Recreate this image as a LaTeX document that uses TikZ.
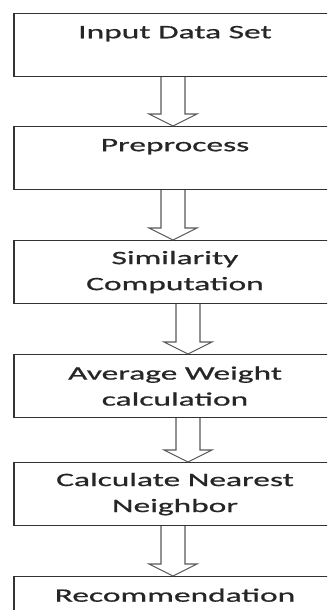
\documentclass[tikz,border=0pt]{standalone}
\usepackage{fontspec}
\setmainfont{Carlito}[FakeStretch=1.76,FakeBold=0.8]
\usetikzlibrary{calc}

% hollow block arrow from one box to the next, at a given x
\newcommand{\hollowarrow}[3]{%
  \draw[harrow] let \p1=(#1.south), \p2=(#2.north) in
    (#3-12,\y1) -- (#3-12,\y2+12) -- (#3-24,\y2+12) -- (#3,\y2)
    -- (#3+24,\y2+12) -- (#3+12,\y2+12) -- (#3+12,\y1);}

\begin{document}
\begin{tikzpicture}[x=1pt,y=1pt,
    stepbox/.style={draw=black!80,line width=1.2pt,minimum width=322pt,
      minimum height=63pt,align=center,anchor=north,inner sep=0pt,
      font=\fontsize{19}{26}\selectfont,text=black!85},
    harrow/.style={draw=black!65,line width=1.1pt,fill=white}]
  \useasboundingbox (0,0) rectangle (327,610);
  \clip (0,0) rectangle (327,610);
  \node[stepbox] (input) at (175,597) {Input Data Set\\~};
  \node[stepbox] (prep) at (175,484) {Preprocess\\~};
  \node[stepbox] (sim) at (175,370) {Similarity\\Computation};
  \node[stepbox] (avg) at (175,256) {Average Weight\\calculation};
  \node[stepbox] (knn) at (175,148) {Calculate Nearest\\Neighbor};
  \node[stepbox] (rec) at (175,34) {Recommendation\\~};
  \hollowarrow{input}{prep}{173}
  \hollowarrow{prep}{sim}{173}
  \hollowarrow{sim}{avg}{188}
  \hollowarrow{avg}{knn}{188}
  \hollowarrow{knn}{rec}{173}
\end{tikzpicture}
\end{document}
